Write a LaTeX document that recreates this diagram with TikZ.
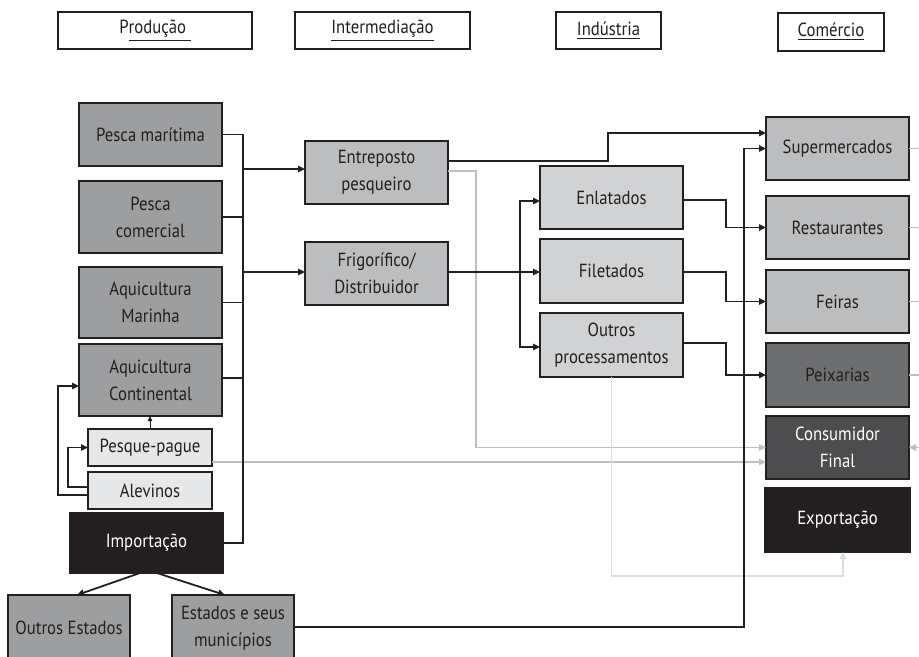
\documentclass[tikz,border=0pt]{standalone}
\usepackage{fontspec}
\setmainfont[FakeStretch=0.88]{PT Sans}
\usetikzlibrary{arrows.meta}
\definecolor{ink}{HTML}{231F20}
\definecolor{gA}{HTML}{9D9EA0}
\definecolor{gB}{HTML}{BCBDBF}
\definecolor{gC}{HTML}{D1D2D4}
\definecolor{gD}{HTML}{E6E7E8}
\definecolor{gE}{HTML}{6D6E70}
\definecolor{gF}{HTML}{4D4D4F}
\definecolor{gl}{HTML}{BCBEC0}
\definecolor{gll}{HTML}{DCDDDE}
\newcommand\mkbox[7]{\node[#1, minimum width={(#5-#3)*0.5pt}, minimum height={(#6-#4)*0.5pt}] (#2) at ({(#3+#5)/2},{(#4+#6)/2}) {#7};}
\newcommand\ul[1]{\underline{#1}}
\tikzset{
  bx/.style={draw=ink, line width=0.6pt, inner sep=0pt, outer sep=0pt, align=center, text=ink},
  hdr/.style={bx, fill=white},
  pA/.style={bx, fill=gA},
  pB/.style={bx, fill=gB},
  pC/.style={bx, fill=gC},
  pD/.style={bx, fill=gD},
  pE/.style={bx, fill=gE},
  pF/.style={bx, fill=gF, text=white},
  pK/.style={bx, fill=ink, text=white},
  ln/.style={draw=ink, line width=0.9pt},
  arr/.style={ln, -{Triangle[length=3.5pt,width=3.2pt]}},
  thinarr/.style={draw=ink, line width=0.5pt, -{Triangle[length=2.5pt,width=2.2pt]}},
  gln/.style={draw=gl, line width=0.9pt},
  garr/.style={gln, -{Triangle[length=3.5pt,width=3.2pt]}},
  glarr/.style={draw=gll, line width=0.9pt, -{Triangle[length=3.5pt,width=3.2pt]}},
}
\begin{document}
\begin{tikzpicture}[x=0.5pt, y=-0.5pt, font=\fontsize{9.5}{13.5}\selectfont]
\useasboundingbox (0,0) rectangle (919,657);
\clip (0,0) rectangle (919,657);
\fill[white] (0,0) rectangle (919,657);
% headers
\mkbox{hdr}{hP}{58}{12}{252}{49}{P\ul{rodução\ }}
\mkbox{hdr}{hI}{295}{12}{470}{49}{\ul{Intermediação}}
\mkbox{hdr}{hN}{556}{12}{661}{49}{\ul{Indústria}}
\mkbox{hdr}{hC}{778}{13}{884}{51}{\ul{Comércio}}
% production
\mkbox{pA}{pm}{79}{103}{222}{166}{Pesca marítima}
\mkbox{pA}{pc}{79}{181}{222}{253}{Pesca\\comercial}
\mkbox{pA}{am}{79}{267}{222}{338}{Aquicultura\\Marinha}
\mkbox{pA}{ac}{79}{344}{222}{416}{Aquicultura\\Continental}
\mkbox{pD}{pp}{88}{429}{212}{466}{Pesque-pague}
\mkbox{pD}{al}{88}{472}{212}{509}{Alevinos}
\mkbox{pK}{imp}{70}{513}{223}{573}{Importação}
\mkbox{pA}{oe}{8}{595}{130}{661}{Outros Estados}
\mkbox{pA}{est}{172}{595}{294}{661}{Estados e seus\\municípios}
% intermediation
\mkbox{pB}{ent}{305}{141}{448}{204}{Entreposto\\pesqueiro}
\mkbox{pB}{fr}{305}{242}{448}{305}{Frigorífico/\\Distribuidor}
% industry
\mkbox{pC}{enl}{540}{166}{683}{229}{Enlatados}
\mkbox{pC}{fil}{540}{239}{683}{303}{Filetados}
\mkbox{pC}{out}{540}{313}{683}{377}{Outros\\processamentos}
% commerce
\mkbox{pB}{sup}{766}{117}{909}{180}{Supermercados}
\mkbox{pB}{res}{766}{196}{909}{259}{Restaurantes}
\mkbox{pB}{fei}{766}{270}{909}{333}{Feiras}
\mkbox{pE}{pei}{766}{343}{909}{407}{Peixarias}
\mkbox{pF}{con}{766}{416}{909}{479}{Consumidor\\Final}
\mkbox{pK}{exp}{765}{488}{910}{552}{Exportação}
% coordinates
\coordinate (b1) at (243,169);
\coordinate (b2) at (243,272);
\coordinate (s1) at (520,272);
% gray connectors
\draw[garr] (ent.east |- 0,171) -- (476,171) |- (con.west);
\draw[garr] (pp.east |- 0,462) -- (con.west |- 0,462);
\draw[glarr] (out.south) |- (843,576) -- (exp.south -| 843,0);
\foreach \n in {sup,res,fei,pei} \draw[gln] (\n.east) -- (\n.east -| 930,0);
\draw[garr] (con.east -| 930,0) -- (con.east);
% production bus
\draw[ln] (pm.east) -- (243,134.5) -- (243,543) -- (imp.east);
\draw[ln] (pc.east) -- (pc.east -| 243,0);
\draw[ln] (am.east) -- (am.east -| 243,0);
\draw[ln] (ac.east |- 0,378) -- (243,378);
\draw[arr] (b1) -- (b1 -| ent.west);
\draw[arr] (b2) -- (b2 -| fr.west);
% local production links
\draw[thinarr] (pp.north) -- (pp.north |- ac.south);
\draw[arr] (al.west |- 0,487) -- (68,487) |- (pp.west);
\draw[arr] (al.west |- 0,495) -- (58,495) |- (ac.west |- 0,386);
\draw[arr] (imp.south -| 140,0) -- (oe.north -| 77,0);
\draw[arr] (imp.south -| 157,0) -- (est.north -| 225,0);
% intermediation to industry/commerce
\draw[arr] (ent.east |- 0,161) -- (608,161) |- (sup.west |- 0,133);
\draw[arr] (fr.east |- 0,272) -- (fil.west |- 0,272);
\draw[arr] (s1) |- (enl.west |- 0,201);
\draw[arr] (s1) |- (out.west |- 0,347);
\draw[arr] (enl.east |- 0,200) -- (726,200) |- (res.west);
\draw[arr] (fil.east |- 0,272) -- (726,272) |- (fei.west);
\draw[arr] (out.east |- 0,343) -- (726,343) |- (pei.west);
\draw[arr] (est.east |- 0,627) -- (744,627) |- (sup.west);
\end{tikzpicture}
\end{document}
